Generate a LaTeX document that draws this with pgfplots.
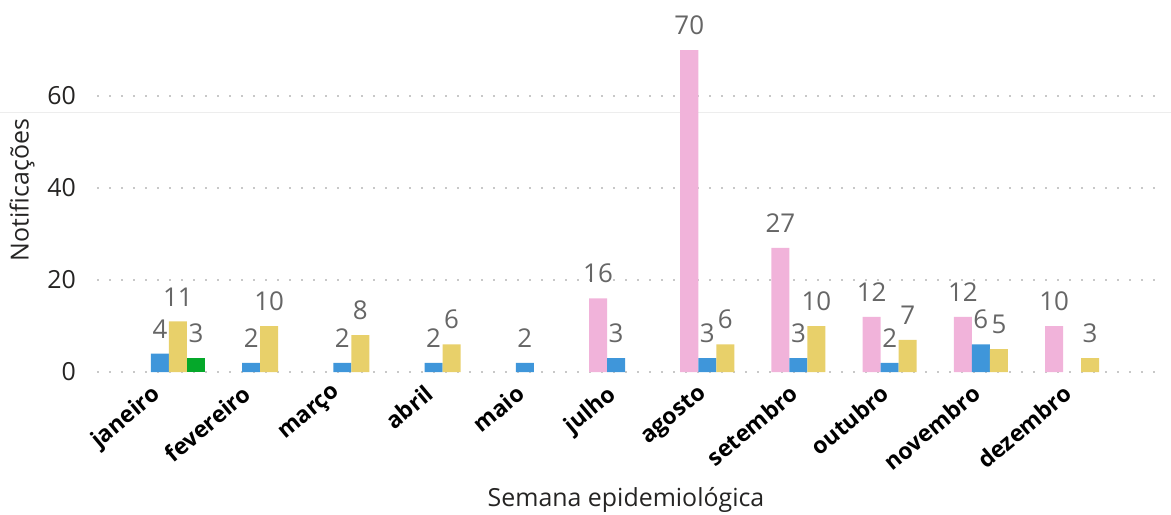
\documentclass[border=0pt]{standalone}
\usepackage{fontspec}
\setmainfont{Open Sans}
\usepackage{pgfplots}
\pgfplotsset{compat=1.18}
\definecolor{cpink}{HTML}{F1B3DA}
\definecolor{cblue}{HTML}{3F96DA}
\definecolor{cyellow}{HTML}{E8D06A}
\definecolor{cgreen}{HTML}{05A82A}
\definecolor{ctext}{HTML}{252423}
\definecolor{clab}{HTML}{666666}
\definecolor{cgrid}{HTML}{C8C8C8}
\begin{document}
\begin{tikzpicture}
\draw[color=black!7, line width=1bp] (0,402bp) -- (1171bp,402bp);
\begin{axis}[
  at={(97bp,143bp)}, anchor=south west,
  scale only axis, width=1058bp, height=358.8bp,
  xmin=-0.789, xmax=10.81, ymin=0, ymax=78,
  clip=false,
  axis line style={draw=none},
  tick style={draw=none},
  /pgf/number format/assume math mode=true,
  ytick={0,20,40,60},
  ymajorgrids,
  grid style={cgrid, line width=2bp, dash pattern=on 2bp off 10bp},
  yticklabel style={font=\fontsize{25}{30}\selectfont, text=ctext, inner sep=0pt, xshift=-21bp},
  xtick={0,...,10},
  xticklabels={janeiro,fevereiro,março,abril,maio,julho,agosto,setembro,outubro,novembro,dezembro},
  xticklabel style={xshift=-19bp, yshift=-7bp, rotate=40, anchor=north east, font=\bfseries\fontsize{23}{28}\selectfont, text=black, inner sep=0pt},
  xlabel={Semana epidemiológica},
  xlabel style={at={(axis description cs:0.5,-0.357)}, anchor=center, font=\fontsize{25}{30}\selectfont, text=ctext},
  ylabel={Notificações},
  ylabel style={at={(axis description cs:-0.0709,0.507)}, anchor=center, rotate=0, font=\fontsize{25}{30}\selectfont, text=ctext},
  ybar, bar width=0.1974,
  nodes near coords,
  every node near coord/.append style={font=\fontsize{26}{30}\selectfont, text=clab, anchor=south, inner sep=0pt, yshift=15bp},
]
\addplot[fill=cpink, draw=none, bar shift=-0.2961] coordinates {(5,16) (6,70) (7,27) (8,12) (9,12) (10,10)};
\addplot[fill=cblue, draw=none, bar shift=-0.0987] coordinates {(0,4) (1,2) (2,2) (3,2) (4,2) (5,3) (6,3) (7,3) (8,2) (9,6)};
\addplot[fill=cyellow, draw=none, bar shift=0.0987] coordinates {(0,11) (1,10) (2,8) (3,6) (6,6) (7,10) (8,7) (9,5) (10,3)};
\addplot[fill=cgreen, draw=none, bar shift=0.2961] coordinates {(0,3)};
\end{axis}
\pgfresetboundingbox
\useasboundingbox (0,0) rectangle (1171bp,515bp);
\end{tikzpicture}
\end{document}
